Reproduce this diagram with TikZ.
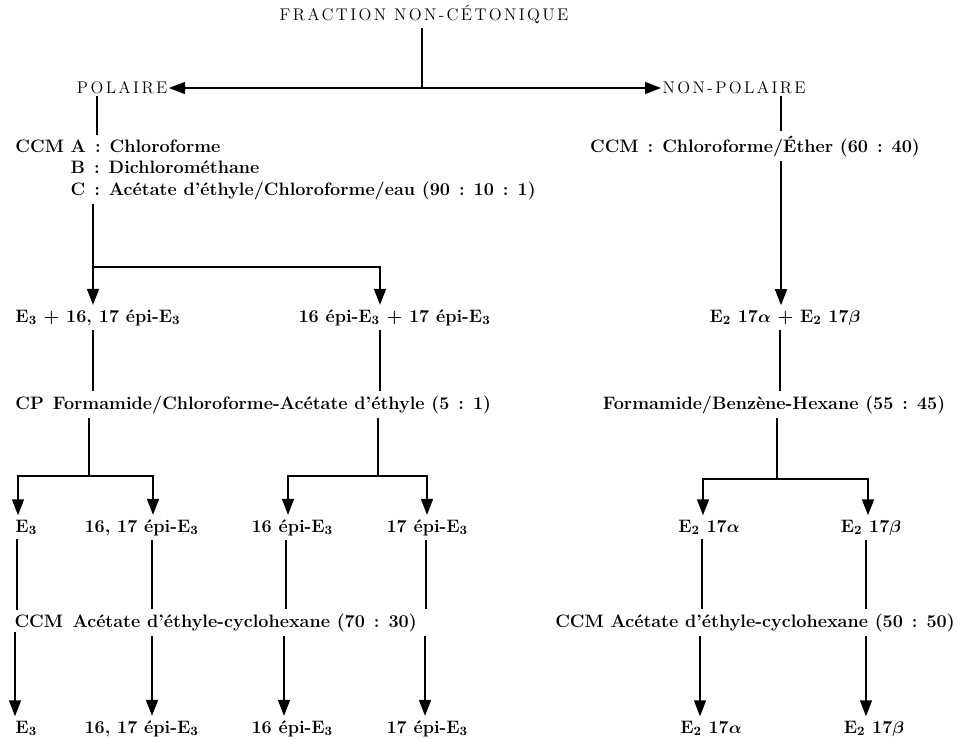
\documentclass[tikz,border=0pt]{standalone}
\usepackage{fontspec}
\usepackage{tikz}
\usetikzlibrary{arrows.meta}
\usepackage{bm}
\usepackage{amsmath}

\newfontfamily\headfont{Latin Modern Roman}[LetterSpace=14]
\newcommand{\Ethree}{E$_{\bm 3}$}
\newcommand{\Etwo}{E$_{\bm 2}$}

\begin{document}
\begin{tikzpicture}[x=0.025cm,y=-0.025cm,
  lbl/.style={inner sep=3pt,font=\fontsize{12.8}{15}\selectfont\bfseries},
  head/.style={inner sep=3pt,font=\headfont\fontsize{12}{14}\selectfont},
  link/.style={line width=1.1pt},
  arr/.style={link,-{Triangle[length=4mm,width=3mm]}}]

\useasboundingbox (0,0) rectangle (957,738);

% top of the tree
\node[head,anchor=base] (frac) at (424,20) {FRACTION NON-CÉTONIQUE};
\coordinate (split0) at (422,88);
\node[head,anchor=east,inner sep=1pt] (pol) at (169,88) {POLAIRE};
\node[head,anchor=west,inner sep=1pt] (npol) at (661,88) {NON-POLAIRE};
\draw[link] (frac.south -| split0) -- (split0);
\draw[arr] (split0) -- (pol);
\draw[arr] (split0) -- (npol);

% polaire branch
\node[lbl,anchor=base west] (ccmA) at (11,152) {CCM\ A\enspace:\enspace Chloroforme};
\node[lbl,anchor=base west] (ccmB) at (11,173) {\phantom{CCM\ }B\enspace:\enspace Dichlorométhane};
\node[lbl,anchor=base west] (ccmC) at (11,195) {\phantom{CCM\ }C\enspace:\enspace Acétate d’éthyle/Chloroforme/eau (90\enspace:\enspace10\enspace:\enspace1)};
\coordinate (colA) at (97,0);
\draw[link] (pol.south -| colA) -- (ccmA.north -| colA);

\node[lbl,anchor=base west] (mixL) at (11,322) {\Ethree\ + 16, 17 épi-\Ethree};
\node[lbl,anchor=base west] (mixR) at (294,322) {16 épi-\Ethree\ + 17 épi-\Ethree};
\coordinate (colB) at (93,0);
\coordinate (colC) at (380,0);
\coordinate (split1) at (93,267);
\draw[link] (ccmC.south -| colB) -- (split1);
\draw[arr] (split1) -- (mixL.north -| colB);
\draw[arr] (split1) -| (mixR.north -| colC);

\node[lbl,anchor=base west] (cp) at (11,409) {CP\enspace Formamide/Chloroforme-Acétate d’éthyle (5\enspace:\enspace1)};
\draw[link] (mixL.south -| colB) -- (cp.north -| colB);
\draw[link] (mixR.south -| colC) -- (cp.north -| colC);

% separation on paper
\coordinate (split2) at (89,476);
\coordinate (split3) at (378,476);
\node[lbl,anchor=base west] (eA) at (11,532) {\Ethree};
\node[lbl,anchor=base west] (eB) at (80,532) {16, 17 épi-\Ethree};
\node[lbl,anchor=base west] (eC) at (247,532) {16 épi-\Ethree};
\node[lbl,anchor=base west] (eD) at (382,532) {17 épi-\Ethree};
\draw[link] (cp.south -| split2) -- (split2);
\draw[link] (cp.south -| split3) -- (split3);
\draw[arr] (split2) -| (eA.north -| 18,0);
\draw[arr] (split2) -| (eB.north -| 153,0);
\draw[arr] (split3) -| (eC.north -| 288,0);
\draw[arr] (split3) -| (eD.north -| 427,0);

\node[lbl,anchor=base west] (ccmL) at (10,627) {CCM};
\node[lbl,anchor=base west] (solvL) at (68,627) {Acétate d’éthyle-cyclohexane (70\enspace:\enspace30)};
\draw[link] (eA.south -| 17,0) -- (ccmL.north -| 17,0);
\draw[link] (eB.south -| 152,0) -- (solvL.north -| 152,0);
\draw[link] (eC.south -| 286,0) -- (solvL.north -| 286,0);
\draw[link] (eD.south -| 426,0) -- (solvL.north -| 426,0);

\node[lbl,anchor=base west] (fA) at (11,733) {\Ethree};
\node[lbl,anchor=base west] (fB) at (80,733) {16, 17 épi-\Ethree};
\node[lbl,anchor=base west] (fC) at (247,733) {16 épi-\Ethree};
\node[lbl,anchor=base west] (fD) at (382,733) {17 épi-\Ethree};
\draw[arr] (ccmL.south -| 15,0) -- (fA.north -| 15,0);
\draw[arr] (solvL.south -| 152,0) -- (fB.north -| 152,0);
\draw[arr] (solvL.south -| 284,0) -- (fC.north -| 284,0);
\draw[arr] (solvL.south -| 425,0) -- (fD.north -| 425,0);

% non-polaire branch
\coordinate (colD) at (781,0);
\node[lbl,anchor=base] (ccmN) at (755,152) {CCM\enspace:\enspace Chloroforme/Éther (60\enspace:\enspace40)};
\draw[link] (npol.south -| colD) -- (ccmN.north -| colD);
\node[lbl,anchor=base] (mixN) at (785,322) {\Etwo\ 17$\bm\alpha$ + \Etwo\ 17$\bm\beta$};
\draw[arr] (ccmN.south -| colD) -- (mixN.north -| colD);
\node[lbl,anchor=base] (fbh) at (774,409) {Formamide/Benzène-Hexane (55\enspace:\enspace45)};
\draw[link] (mixN.south -| 780,0) -- (fbh.north -| 780,0);

\coordinate (split4) at (777,479);
\node[lbl,anchor=base] (gA) at (709,532) {\Etwo\ 17$\bm\alpha$};
\node[lbl,anchor=base] (gB) at (871,532) {\Etwo\ 17$\bm\beta$};
\draw[link] (fbh.south -| split4) -- (split4);
\draw[arr] (split4) -| (gA.north -| 703,0);
\draw[arr] (split4) -| (gB.north -| 868,0);

\node[lbl,anchor=base] (ccmR) at (755,627) {CCM Acétate d’éthyle-cyclohexane (50\enspace:\enspace50)};
\draw[link] (gA.south -| 702,0) -- (ccmR.north -| 702,0);
\draw[link] (gB.south -| 866,0) -- (ccmR.north -| 866,0);

\node[lbl,anchor=base] (hA) at (711,733) {\Etwo\ 17$\bm\alpha$};
\node[lbl,anchor=base] (hB) at (874,733) {\Etwo\ 17$\bm\beta$};
\draw[arr] (ccmR.south -| 700,0) -- (hA.north -| 700,0);
\draw[arr] (ccmR.south -| 866,0) -- (hB.north -| 866,0);
\end{tikzpicture}
\end{document}
